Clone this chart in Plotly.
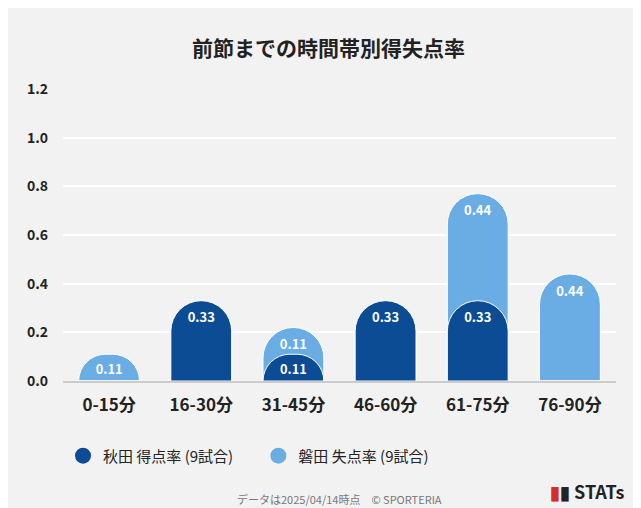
import plotly.graph_objects as go

periods = ['0-15分', '16-30分', '31-45分', '46-60分', '61-75分', '76-90分']
akita_scored = [0, 0.33, 0.11, 0.33, 0.33, 0]
iwata_conceded = [0.11, 0, 0.11, 0, 0.44, 0.44]

DARK = '#0b4c94'
LIGHT = '#6aade4'

stack_top = [a + b for a, b in zip(akita_scored, iwata_conceded)]
label_font = dict(color='white', size=13, family='Noto Sans CJK JP', weight='bold')

fig = go.Figure()
fig.add_trace(go.Bar(
    x=periods, y=stack_top, marker_color=LIGHT, width=0.66,
    text=[f'{v:.2f}' if v else '' for v in iwata_conceded],
    textposition='inside', insidetextanchor='end', textfont=label_font,
    showlegend=False, hoverinfo='skip',
    marker_line=dict(color='white', width=1),
))
fig.add_trace(go.Bar(
    x=periods, y=akita_scored, marker_color=DARK, width=0.66,
    text=[f'{v:.2f}' if v else '' for v in akita_scored],
    textposition='inside', insidetextanchor='end', textfont=label_font,
    showlegend=False, hoverinfo='skip', yaxis='y2',
    marker_line=dict(color='white', width=1),
))
for name, c in [('秋田 得点率 (9試合)', DARK), ('磐田 失点率 (9試合)', LIGHT)]:
    fig.add_trace(go.Scatter(x=[None], y=[None], mode='markers', name=name + '      ',
                             marker=dict(color=c, size=24, symbol='circle')))

fig.update_layout(
    width=641, height=508, barmode='overlay', barcornerradius='50%',
    paper_bgcolor='#f2f2f2', plot_bgcolor='#f2f2f2',
    margin=dict(l=55, r=33, t=81, b=135),
    font=dict(family='Noto Sans CJK JP', color='#222'),
    title=dict(text='<b>前節までの時間帯別得失点率</b>', x=0.5, xanchor='center',
               y=0.935, font=dict(size=21, color='#222')),
    xaxis=dict(tickfont=dict(size=17, color='#222', weight='bold'), ticklabelstandoff=8,
               showline=True, linecolor='#cccccc', linewidth=2),
    yaxis=dict(range=[0, 1.2], dtick=0.2, tickformat='.1f', gridcolor='white', gridwidth=2,
               zeroline=False, tickfont=dict(size=14, color='#222', weight='bold'),
               ticklabelstandoff=14),
    yaxis2=dict(range=[0, 1.2], overlaying='y', visible=False),
    legend=dict(orientation='h', x=0.0, y=-0.2, xanchor='left', yanchor='top',
                font=dict(size=15, color='#222'), itemsizing='trace', bgcolor='rgba(0,0,0,0)'),
    annotations=[
        dict(text='データは2025/04/14時点　© SPORTERIA', x=0.5, y=-0.405, xref='paper',
             yref='paper', showarrow=False, font=dict(size=11, color='#777'),
             xanchor='center', yanchor='middle'),
        dict(text='<b><span style="color:#d62c2c">▮</span>▮ STATs</b>', x=1.02, y=-0.375,
             xref='paper', yref='paper', showarrow=False, font=dict(size=18, color='#222'),
             xanchor='right', yanchor='middle'),
    ],
)
fig.write_html('out.html')
